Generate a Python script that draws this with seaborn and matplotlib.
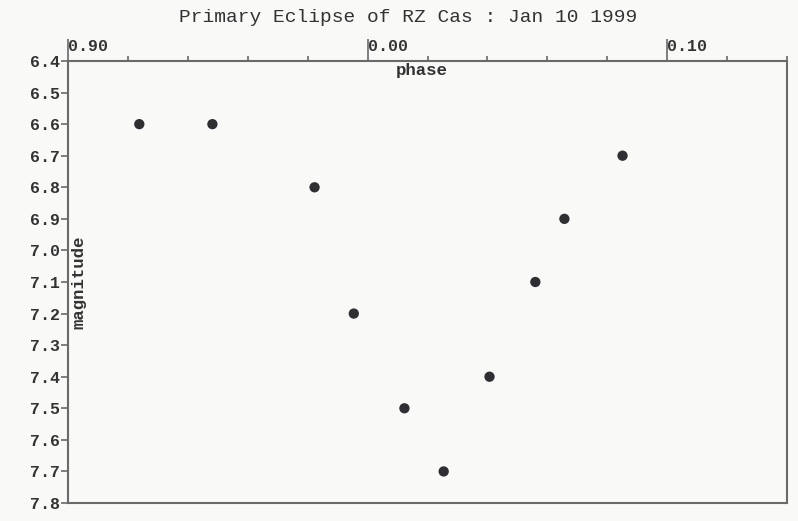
import numpy as np
import pandas as pd
import matplotlib
matplotlib.use("Agg")
import matplotlib.pyplot as plt
import seaborn as sns
from matplotlib.ticker import FixedLocator, MultipleLocator

# --- Data ---
# phase is plotted continuous across 0 (0.90 == -0.10)
phase = [-0.0762, -0.0518, -0.0177, -0.0046, 0.0123, 0.0254, 0.0407, 0.0560, 0.0657, 0.0851]
magnitude = [6.6, 6.6, 6.8, 7.2, 7.5, 7.7, 7.4, 7.1, 6.9, 6.7]

major_ticks = [-0.10, 0.00, 0.10]
major_labels = ["0.90", "0.00", "0.10"]
y_ticks = [6.4, 6.5, 6.6, 6.7, 6.8, 6.9, 7.0, 7.1, 7.2, 7.3, 7.4, 7.5, 7.6, 7.7, 7.8]

df = pd.DataFrame({"phase": phase, "magnitude": magnitude})

sns.set_style("white")
plt.rcParams["font.family"] = ["Liberation Mono", "DejaVu Sans Mono"]

bg = "#f9f9f8"
line_col = "#6a6a6a"
text_col = "#333333"
fig = plt.figure(figsize=(7.98, 5.21), dpi=100, facecolor=bg)
ax = fig.add_axes([68 / 798, 1 - 503 / 521, 719 / 798, 442 / 521])
ax.set_facecolor(bg)

sns.scatterplot(data=df, x="phase", y="magnitude", ax=ax, s=55,
                color="#2e2e33", edgecolor="none", legend=False)

ax.set_xlim(-0.10, 0.14)
ax.set_ylim(7.8, 6.4)

# top x axis: long major ticks with labels set beside them, short minor ticks
ax.xaxis.tick_top()
ax.xaxis.set_major_locator(FixedLocator(major_ticks))
ax.xaxis.set_minor_locator(MultipleLocator(0.02))
ax.set_xticklabels(major_labels)
ax.tick_params(axis="x", which="major", length=16, width=1.2, color=line_col,
               pad=-11, labelsize=12, top=True, bottom=False)
ax.tick_params(axis="x", which="minor", length=3.5, width=1.2, color=line_col,
               top=True, bottom=False)
for lab in ax.get_xticklabels():
    lab.set_horizontalalignment("left")
    lab.set_fontweight("bold")
    lab.set_color(text_col)

ax.set_yticks(y_ticks)
ax.set_yticklabels([f"{v:.1f}" for v in y_ticks])
ax.tick_params(axis="y", which="major", left=True, length=5, width=1.2,
               color=line_col, pad=1, labelsize=12, labelcolor=text_col)
for lab in ax.get_yticklabels():
    lab.set_fontweight("bold")

for sp in ax.spines.values():
    sp.set_visible(True)
    sp.set_color(line_col)
    sp.set_linewidth(1.5)

# axis titles sit just inside the frame
ax.xaxis.set_label_position("top")
ax.set_xlabel("phase", fontsize=12.5, fontweight="bold", color=text_col)
ax.xaxis.label.set_verticalalignment("top")
ax.xaxis.set_label_coords(0.492, 0.995)
ax.set_ylabel("magnitude", fontsize=12.5, fontweight="bold", color=text_col,
              ha="center", va="center")
ax.yaxis.set_label_coords(0.0145, 0.5)

fig.text(408 / 798, 1 - 17 / 521, "Primary Eclipse of RZ Cas : Jan 10 1999",
         ha="center", va="center", fontsize=14, color=text_col)

fig.savefig("out.png", dpi=100, facecolor=bg)
